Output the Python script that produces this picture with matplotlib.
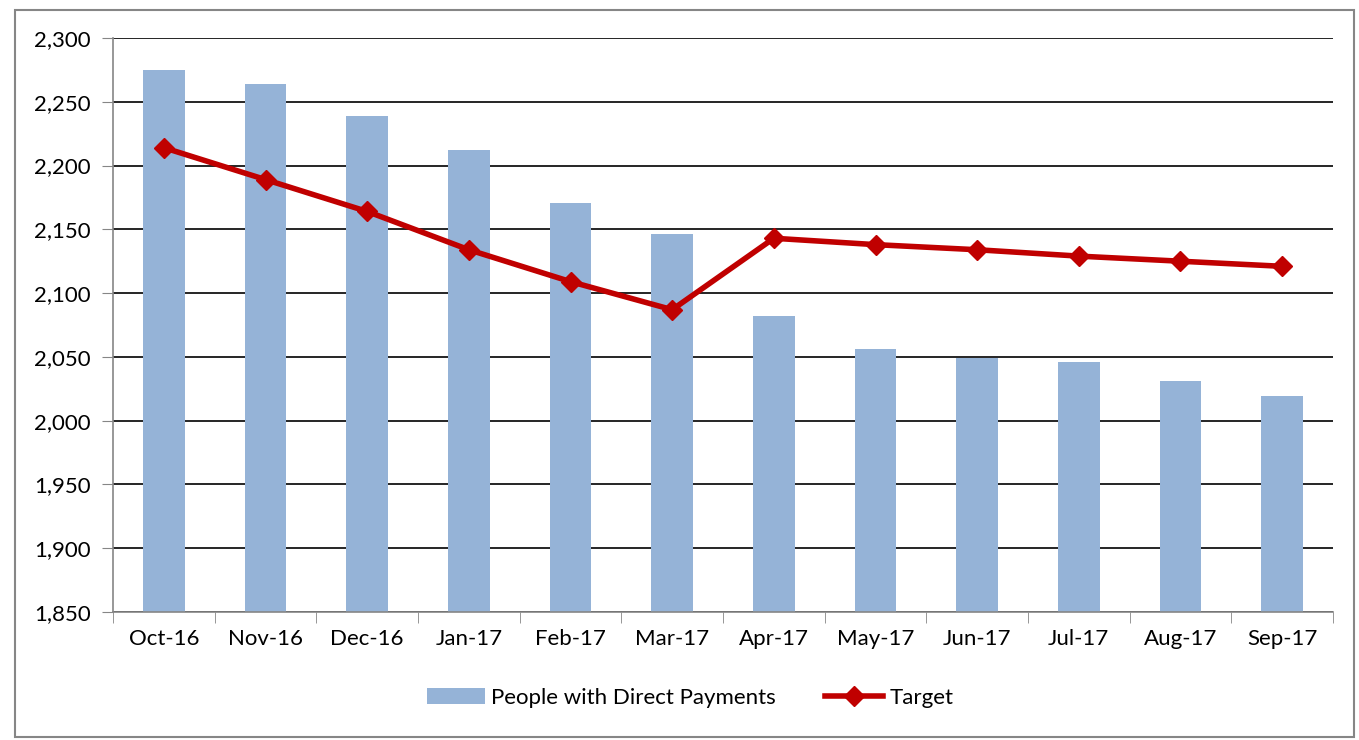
import matplotlib
matplotlib.use("Agg")
import matplotlib.pyplot as plt
from matplotlib.patches import Rectangle
from matplotlib.ticker import FuncFormatter, FixedLocator
import numpy as np

plt.rcParams['font.family'] = ['Lato', 'DejaVu Sans']

months = ['Oct-16', 'Nov-16', 'Dec-16', 'Jan-17', 'Feb-17', 'Mar-17',
          'Apr-17', 'May-17', 'Jun-17', 'Jul-17', 'Aug-17', 'Sep-17']
people = [2275, 2264, 2239, 2212, 2171, 2146, 2082, 2056, 2049, 2046, 2031, 2019]
target = [2214, 2189, 2164, 2134, 2109, 2087, 2143, 2138, 2134, 2129, 2125, 2121]

fig = plt.figure(figsize=(13.59, 7.40), dpi=100)
ax = fig.add_axes([113/1359, 1 - 612/740, (1333 - 113)/1359, (612 - 38)/740])

x = np.arange(len(months))
bars = ax.bar(x, people, width=0.41, color='#95B3D7', label='People with Direct Payments', zorder=2)
line, = ax.plot(x, target, color='#C00000', lw=4, marker='D', markersize=10,
                label='Target', zorder=3)

ax.set_ylim(1850, 2300)
ax.set_xlim(-0.5, len(months) - 0.5)
ax.set_yticks(np.arange(1850, 2301, 50))
ax.yaxis.set_major_formatter(FuncFormatter(lambda v, p: f'{int(v):,}'))
ax.set_xticks(x)
ax.set_xticklabels(months)
ax.xaxis.set_minor_locator(FixedLocator(np.arange(-0.5, len(months), 1)))
ax.tick_params(axis='x', which='major', length=0, pad=12, labelsize=16)
ax.tick_params(axis='x', which='minor', length=8, color='#868686', direction='out')
ax.tick_params(axis='y', length=8, color='#868686', labelsize=16, pad=8)
ax.grid(axis='y', color='black', lw=1.2, zorder=1)
for s in ['top', 'right']:
    ax.spines[s].set_visible(False)
for s in ['left', 'bottom']:
    ax.spines[s].set_color('#868686')
    ax.spines[s].set_linewidth(1.2)
ax.set_axisbelow(True)

fig.legend([bars, line], ['People with Direct Payments', 'Target'],
           loc='center', bbox_to_anchor=(690/1359, 1 - 698/740), ncol=2, frameon=False,
           fontsize=16, handlelength=2.6, columnspacing=2.2, handletextpad=0.3)

fig.patches.append(Rectangle((15/1359, 3/740), (1354 - 15)/1359, (730 - 3)/740,
                             transform=fig.transFigure, fill=False,
                             edgecolor='#868686', lw=1.5))

fig.savefig('out.png', dpi=100)
